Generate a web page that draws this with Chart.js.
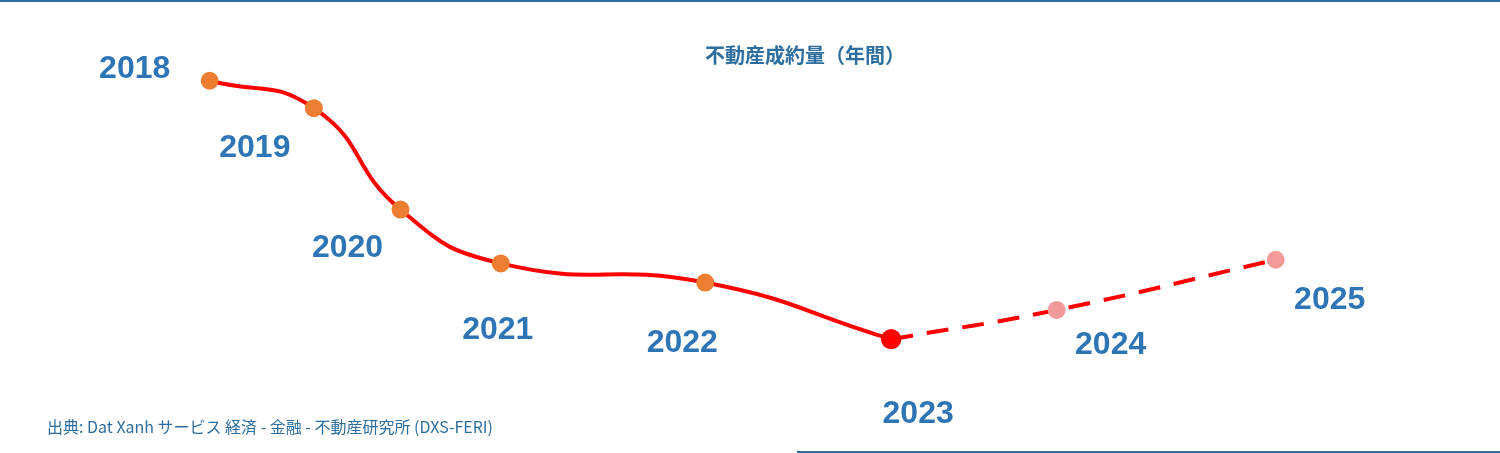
<!DOCTYPE html>
<html><head><meta charset="utf-8">
<script src="https://cdn.jsdelivr.net/npm/chart.js@4"></script>
<style>html,body{margin:0;padding:0;background:#fff;overflow:hidden}#wrap{position:relative;width:1500px;height:453px;border-top:2px solid #2e6e9e;box-sizing:border-box}
#title{position:absolute;left:705px;top:38px;font:bold 20px "Noto Sans CJK JP";color:#2e6e9e}
#src{position:absolute;left:47px;top:412px;font:16px "Noto Sans CJK JP";color:#2e6e9e}
#bl{position:absolute;left:797px;top:449px;width:703px;height:2px;background:#2e6e9e}
canvas{position:absolute;left:0;top:-2px}</style></head>
<body><div id="wrap"><canvas id="c" width="1500" height="451"></canvas>
<div id="title">不動産成約量（年間）</div>
<div id="src">出典: Dat Xanh サービス 経済 - 金融 - 不動産研究所 (DXS-FERI)</div><div id="bl"></div></div>
<script>
const years=["2018","2019","2020","2021","2022","2023","2024","2025"];
const xPos=[195,302,391,494,704,895,1065,1290];
const yVal=[67,97,208,267,288,350,318,263];
const labelOffset=[[-75,-12],[-59,40],[-53,39],[-3,67],[-23,61],[27,75],[54,35],[54,40]];
const actual=years.slice(0,6).map((y,i)=>({x:xPos[i],y:yVal[i]}));
const forecast=years.slice(5).map((y,i)=>({x:xPos[i+5],y:yVal[i+5]}));
const labelPlugin={id:'lbl',afterDatasetsDraw(ch){const ctx=ch.ctx,xs=ch.scales.x,ys=ch.scales.y;ctx.save();ctx.font='bold 32px "Liberation Sans"';ctx.fillStyle='#2e75b6';ctx.textAlign='center';ctx.textBaseline='middle';
years.forEach((t,i)=>{ctx.fillText(t,xs.getPixelForValue(xPos[i])+labelOffset[i][0],ys.getPixelForValue(yVal[i])+labelOffset[i][1]);});ctx.restore();}};
new Chart(document.getElementById('c'),{type:'line',data:{datasets:[
{data:actual,borderColor:'#ff0000',borderWidth:4,tension:0.5,pointRadius:[9,9,9,9,9,10],pointBackgroundColor:['#ed7d31','#ed7d31','#ed7d31','#ed7d31','#ed7d31','#ff0000'],pointBorderWidth:0},
{data:forecast,borderColor:'#ff0000',borderWidth:4,borderDash:[22,14],tension:0.5,pointRadius:[10,9,9],pointBackgroundColor:['#ff0000','#f29a9a','#f29a9a'],pointBorderWidth:0}
]},options:{responsive:false,animation:false,layout:{padding:0},plugins:{legend:{display:false},tooltip:{enabled:false}},
scales:{x:{type:'linear',min:-10.14,max:1510.14,display:false},y:{min:-10.46,max:461.46,reverse:true,display:false}}},plugins:[labelPlugin]});
</script></body></html>
